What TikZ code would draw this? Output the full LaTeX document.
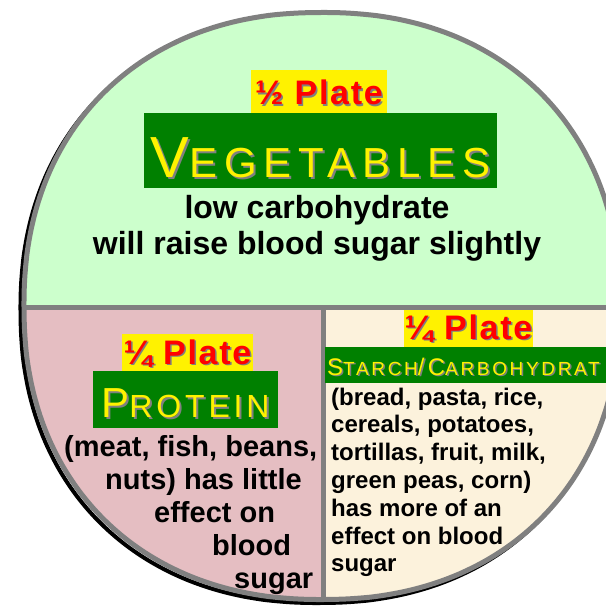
\documentclass[tikz,border=0pt]{standalone}
\usepackage{fontspec}
\setmainfont{Liberation Sans}

\definecolor{vegfill}{RGB}{204,255,204}
\definecolor{protfill}{RGB}{229,190,194}
\definecolor{starchfill}{RGB}{252,242,220}
\definecolor{rimgray}{RGB}{128,128,128}
\definecolor{headgreen}{RGB}{0,128,0}

% text with a grey drop shadow: offset, colour, text
\newcommand{\shadowed}[3]{\leavevmode\rlap{\kern#1\raisebox{-#1}{\color{gray}#3}}{\color{#2}#3}}
\newcommand{\capsize}[1]{\fontsize{#1}{#1}\selectfont}

\tikzset{
  declare function={
    platex(\t) = 322 + 298*sign(cos(\t))*abs(cos(\t))^0.91;
    platey(\t) = 306 + 293.5*sign(sin(\t))*abs(sin(\t))^0.91;
  },
  plate outline/.style={insert path={plot[domain=0.5:358.5, samples=180, smooth cycle] ({platex(\x)},{platey(\x)})}},
  divider/.style={rimgray, line width=5pt},
  platebox/.style={fill=yellow, inner sep=0pt, text depth=0pt,
    font=\bfseries\capsize{34}\addfontfeature{LetterSpace=5}},
  headbox/.style={fill=headgreen, inner sep=0pt, text depth=0pt},
  bodytext/.style={font=\bfseries\capsize{#1}, inner sep=0pt},
}

\begin{document}
\begin{tikzpicture}[x=1pt, y=-1pt]
    \useasboundingbox (0,0) rectangle (605,607);

    % Rim shadow
    \begin{scope}[xshift=-3.5pt, yshift=-3.5pt]
        \draw[black, line width=4pt, plate outline];
    \end{scope}

    % Plate sections
    \begin{scope}
        \clip[plate outline];
        \fill[vegfill] (0,0) rectangle (640,307);
        \fill[protfill] (0,307) rectangle (323,620);
        \fill[starchfill] (323,307) rectangle (640,620);
        \draw[divider] (0,307) -- (640,307);
        \draw[divider] (323,307) -- (323,620);
    \end{scope}

    % Rim
    \draw[rimgray, line width=5pt, plate outline];

    % Half plate: vegetables
    \node[platebox, minimum width=136pt, minimum height=42.7pt, text height=27.2pt] (vegplate) at (319,91.4)
        {\shadowed{1.5pt}{red}{½ Plate}};
    \node[headbox, minimum width=353pt, minimum height=75.3pt, text height=53.4pt] (veghead) at (320.5,150.3)
        {\shadowed{2pt}{yellow}{\addfontfeature{LetterSpace=16}\capsize{58}V\capsize{42}EGETABLES}};
    \node[bodytext=32, anchor=base] (vegline1) at (317,218) {low carbohydrate};
    \node[bodytext=32, anchor=base] (vegline2) at (317,254) {will raise blood sugar slightly};

    % Quarter plate: protein
    \node[platebox, minimum width=131pt, minimum height=37pt, text height=23pt] (protplate) at (187.5,352.5)
        {\shadowed{1.5pt}{red}{¼ Plate}};
    \node[headbox, minimum width=185pt, minimum height=57pt, text height=35pt] (prothead) at (185.5,399.5)
        {\shadowed{2pt}{yellow}{\addfontfeature{LetterSpace=12}\capsize{42}P\capsize{32}ROTEIN}};
    \foreach \xpos/\txt [count=\i] in {64/{(meat, fish, beans,}, 105/{nuts) has little}, 154/{effect on}, 212/blood, 234/sugar}
        \node[bodytext=29, anchor=base west] (protline\i) at (\xpos, 423+33*\i) {\txt};

    % Quarter plate: starch
    \node[platebox, minimum width=129pt, minimum height=37pt, text height=21pt] (starchplate) at (468.5,328.5)
        {\shadowed{1.5pt}{red}{¼ Plate}};
    \node[headbox, anchor=west, inner xsep=2pt, text width=296pt, align=left, minimum height=36pt, text height=20pt] (starchhead) at (325,365)
        {\shadowed{1.5pt}{yellow}{\addfontfeature{LetterSpace=14}\capsize{24}S\capsize{19}TARCH\capsize{24}/C\capsize{19}ARBOHYDRAT}};
    \foreach \txt [count=\i from 0] in {{(bread, pasta, rice,}, {cereals, potatoes,}, {tortillas, fruit, milk,}, {green peas, corn)}, {has more of an}, {effect on blood}, {sugar}}
        \node[bodytext=24, anchor=base west] (starchline\i) at (331, 405+27.8*\i) {\txt};
\end{tikzpicture}
\end{document}
